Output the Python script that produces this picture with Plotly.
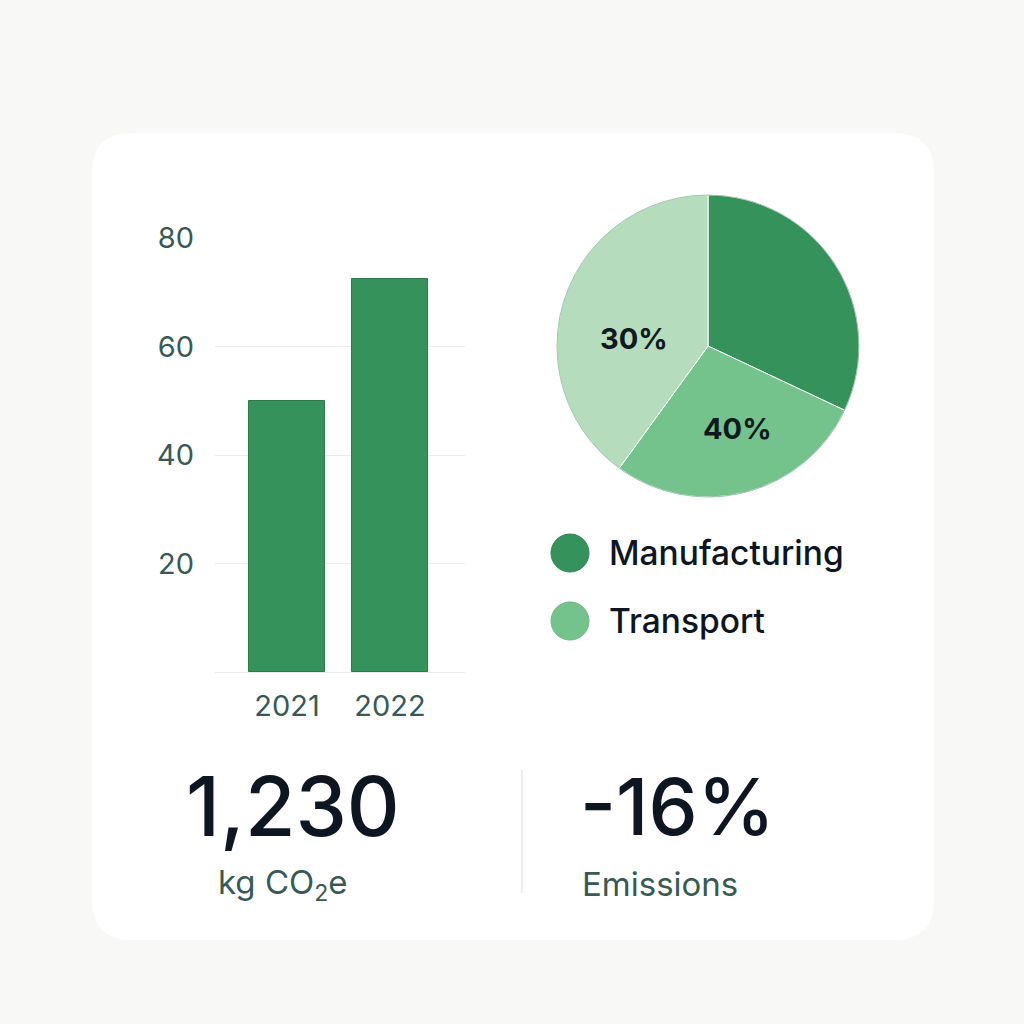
import plotly.graph_objects as go

years = ["2021", "2022"]
emissions = [50, 72.5]

sources = ["Manufacturing", "Transport", "Other"]
shares = [32, 28, 40]
share_labels = ["40%", "30%"]  # printed on the Transport and Other slices

legend_names = ["Manufacturing", "Transport"]
total_value = "1,230"
total_unit = "kg CO<sub>2</sub>e"
change_value = "-16%"
change_label = "Emissions"

W = H = 1024
dark = "#35925a"
mid = "#74c38c"
light = "#b5dcbd"
ink = "#0e1622"
muted = "#375a54"
FONT = "Inter"


def px(x):
    return x / W


def py(y):
    return 1 - y / H


fig = go.Figure()

fig.add_trace(go.Bar(
    x=years, y=emissions, width=0.74,
    marker=dict(color=dark, line=dict(color="#2c7a4a", width=1)),
    hoverinfo="skip", showlegend=False,
))

fig.add_trace(go.Pie(
    labels=sources, values=shares, textinfo="none",
    sort=False, direction="clockwise", rotation=0,
    marker=dict(colors=[dark, mid, light], line=dict(color="#ffffff", width=1)),
    domain=dict(x=[px(557), px(859)], y=[py(497), py(195)]),
    showlegend=False, hoverinfo="skip",
))

# rounded white card
x0, x1, y0, y1, r = px(92), px(934), py(940), py(133), 40 / W
path = (f"M {x0+r},{y0} L {x1-r},{y0} Q {x1},{y0} {x1},{y0+r} "
        f"L {x1},{y1-r} Q {x1},{y1} {x1-r},{y1} L {x0+r},{y1} "
        f"Q {x0},{y1} {x0},{y1-r} L {x0},{y0+r} Q {x0},{y0} {x0+r},{y0} Z")
shapes = [dict(type="path", path=path, xref="paper", yref="paper",
               fillcolor="#ffffff", line=dict(width=0), layer="below")]

# thin darker rim round the pie
shapes.append(dict(type="circle", xref="paper", yref="paper",
                   x0=px(557), x1=px(859), y0=py(497), y1=py(195),
                   line=dict(color="rgba(47,132,80,0.45)", width=1)))

# divider between stats
shapes.append(dict(type="line", xref="paper", yref="paper",
                   x0=px(522), x1=px(522), y0=py(893), y1=py(770),
                   line=dict(color="#e3e8e6", width=1.5)))

annotations = []

# slice labels
for label, (lx, ly) in zip(share_labels, [(737, 428), (634, 338)]):
    annotations.append(dict(text=label, x=px(lx), y=py(ly), xref="paper", yref="paper",
                            xanchor="center", yanchor="middle", showarrow=False,
                            font=dict(family=FONT, size=29, color="#101820", weight=700)))

legend_colors = [dark, mid]
for i, name in enumerate(legend_names):
    cy = 553 + i * 68
    shapes.append(dict(type="circle", xref="paper", yref="paper",
                       x0=px(551), x1=px(589), y0=py(cy + 19), y1=py(cy - 19),
                       fillcolor=legend_colors[i], line=dict(color="#2f8450" if i == 0 else "#6ab783", width=1)))
    annotations.append(dict(text=name, x=px(607), y=py(cy), xref="paper", yref="paper",
                            xanchor="left", yanchor="middle", showarrow=False,
                            font=dict(family=FONT, size=33.5, color=ink, weight=500)))

annotations += [
    dict(text=total_value, x=px(293), y=py(806), xref="paper", yref="paper",
         xanchor="center", yanchor="middle", showarrow=False,
         font=dict(family=FONT, size=82, color=ink, weight=500)),
    dict(text=total_unit, x=px(283), y=py(884), xref="paper", yref="paper",
         xanchor="center", yanchor="middle", showarrow=False,
         font=dict(family=FONT, size=33, color=muted)),
    dict(text=change_value, x=px(578), y=py(806), xref="paper", yref="paper",
         xanchor="left", yanchor="middle", showarrow=False,
         font=dict(family=FONT, size=78, color=ink, weight=500)),
    dict(text=change_label, x=px(580), y=py(884), xref="paper", yref="paper",
         xanchor="left", yanchor="middle", showarrow=False,
         font=dict(family=FONT, size=33, color=muted)),
]

fig.update_layout(
    width=W, height=H,
    margin=dict(l=0, r=0, t=0, b=0, autoexpand=False),
    paper_bgcolor="#f8f8f6", plot_bgcolor="rgba(0,0,0,0)",
    shapes=shapes, annotations=annotations,
    xaxis=dict(domain=[px(215), px(465)], range=[-0.7, 1.73], type="category",
               showgrid=False, zeroline=False, showline=False, ticks="",
               ticklabelstandoff=14,
               tickfont=dict(family=FONT, size=29, color=muted)),
    yaxis=dict(domain=[py(672), py(238)], range=[0, 80], tickvals=[20, 40, 60, 80],
               showgrid=True, gridcolor="#e8ecea", gridwidth=1,
               zeroline=True, zerolinecolor="#e8ecea", zerolinewidth=1,
               showline=False, ticks="", ticklabelstandoff=20,
               tickfont=dict(family=FONT, size=29, color=muted)),
    bargap=0,
)

fig.write_html("out.html", config={"displayModeBar": False},
               post_script="document.body.style.margin='0';")
